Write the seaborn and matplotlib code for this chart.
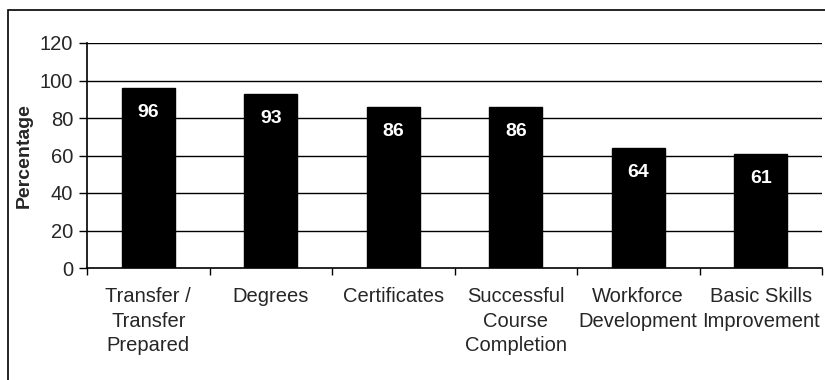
import matplotlib
matplotlib.use("Agg")
import matplotlib.pyplot as plt
import seaborn as sns
import pandas as pd
from matplotlib.patches import Rectangle

categories = ["Transfer /\nTransfer\nPrepared", "Degrees", "Certificates",
              "Successful\nCourse\nCompletion", "Workforce\nDevelopment", "Basic Skills\nImprovement"]
values = [96, 93, 86, 86, 64, 61]
yticks = [0, 20, 40, 60, 80, 100, 120]

sns.set_theme(style="white")
plt.rcParams['font.family'] = ['Liberation Sans', 'DejaVu Sans']

df = pd.DataFrame({"cat": categories, "val": values})

fig = plt.figure(figsize=(8.25, 3.8), dpi=100)
ax = fig.add_axes([87/825, 1-268/380, (822-87)/825, (268-43)/380])

sns.barplot(data=df, x="cat", y="val", color="black", width=0.43, ax=ax,
            saturation=1, edgecolor="black")

ax.set_ylim(0, 120)
ax.set_xlim(-0.5, len(categories)-0.5)
ax.set_yticks(yticks)
ax.set_yticklabels([str(t) for t in yticks], fontsize=14.5)
for t in yticks[1:]:
    ax.axhline(t, color="black", lw=1, zorder=0)
ax.set_xticks([i - 0.5 for i in range(len(categories)+1)], minor=False)
ax.set_xticklabels([])
ax.set_xticks(range(len(categories)), minor=True)
ax.set_xticklabels(categories, minor=True, fontsize=14.5, linespacing=1.36)
ax.tick_params(axis="x", which="major", direction="out", length=5, width=1, color="black", bottom=True)
ax.tick_params(axis="x", which="minor", length=0, pad=14)
ax.tick_params(axis="y", direction="out", length=6, width=1, color="black", left=True, pad=4)
ax.set_xlabel("")
ax.set_ylabel("Percentage", fontsize=14, fontweight="bold", labelpad=5)

for s in ["left", "bottom"]:
    ax.spines[s].set_visible(True)
    ax.spines[s].set_color("black")
    ax.spines[s].set_linewidth(1.2)
for s in ["top", "right"]:
    ax.spines[s].set_visible(False)

for i, v in enumerate(values):
    ax.text(i, v - 8.5, str(v), color="white", fontsize=14, fontweight="bold",
            ha="center", va="top")

fig.patches.append(Rectangle((8/825, -0.05), 1.0, 1 - 10/380 + 0.05, transform=fig.transFigure,
                             fill=False, edgecolor="black", lw=1.2))

fig.savefig("out.png", dpi=100, facecolor="white")
